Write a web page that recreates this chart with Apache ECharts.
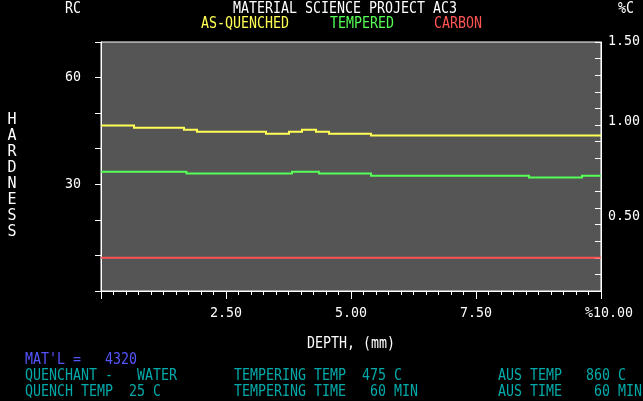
<!DOCTYPE html>
<html>
<head>
<meta charset="utf-8">
<script src="https://cdn.jsdelivr.net/npm/echarts@6/dist/echarts.min.js"></script>
<style>
html,body{margin:0;padding:0;background:#000;}
#chart{width:643px;height:401px;}
</style>
</head>
<body>
<div id="chart"></div>
<script>
// ---- data ----
var quenchedDepth = [0, 0.66, 1.66, 1.92, 3.30, 3.76, 4.02, 4.30, 4.56, 5.40, 10];
var quenchedRC    = [46.5, 45.9, 45.3, 44.8, 44.2, 44.8, 45.3, 44.8, 44.2, 43.7, 43.7];
var temperedDepth = [0, 1.71, 3.82, 4.36, 5.40, 8.56, 9.62, 10];
var temperedRC    = [33.5, 33.0, 33.5, 33.0, 32.4, 31.9, 32.4, 32.4];
var carbonDepth   = [0, 10];
var carbonPct     = [0.20, 0.20];
var rcTickLabels  = [30, 60];
var pctTickLabels = ['0.50', '1.00', '1.50'];
var depthTickLabels = ['2.50', '5.00', '7.50', '%10.00'];
var infoLines = [
  {text: "MAT'L =   4320", col: 0, row: 0, color: '#5555ff'},
  {text: "QUENCHANT -   WATER", col: 0, row: 1, color: '#00aaaa'},
  {text: "QUENCH TEMP  25 C", col: 0, row: 2, color: '#00aaaa'},
  {text: "TEMPERING TEMP  475 C", col: 1, row: 1, color: '#00aaaa'},
  {text: "TEMPERING TIME   60 MIN", col: 1, row: 2, color: '#00aaaa'},
  {text: "AUS TEMP   860 C", col: 2, row: 1, color: '#00aaaa'},
  {text: "AUS TIME    60 MIN", col: 2, row: 2, color: '#00aaaa'}
];

// build step-shaped point list: each value holds from its depth to the next depth
function stepData(xs, ys) {
  var out = [];
  for (var i = 0; i < xs.length; i++) {
    out.push([xs[i], ys[i]]);
    if (i < xs.length - 1) out.push([xs[i + 1], ys[i]]);
  }
  return out;
}

var MONO = '"DejaVu Sans Mono", "Liberation Mono", monospace';
var SX = 0.831;
function txt(text, x, y, color, align) {
  return {
    type: 'text', x: x, y: y, scaleX: SX,
    style: { text: text, fill: color, font: '16px ' + MONO,
             textAlign: align || 'center', textVerticalAlign: 'middle' }
  };
}

var colX = [25, 234, 498];
var rowY = [360, 376, 392];
var graphics = [
  txt('RC', 73, 9, '#ffffff'),
  txt('MATERIAL SCIENCE PROJECT AC3', 345, 9, '#ffffff'),
  txt('%C', 626, 9, '#ffffff'),
  txt('AS-QUENCHED', 245, 24, '#ffff55'),
  txt('TEMPERED', 362, 24, '#55ff55'),
  txt('CARBON', 458, 24, '#ff5555'),
  txt('DEPTH, (mm)', 351, 344, '#ffffff'),
  {
    type: 'text', x: 12, y: 176,
    style: { text: 'H\nA\nR\nD\nN\nE\nS\nS', fill: '#ffffff', font: '15px ' + MONO,
             lineHeight: 15.9, textAlign: 'center', textVerticalAlign: 'middle' }
  }
];
infoLines.forEach(function (l) {
  graphics.push(txt(l.text, colX[l.col], rowY[l.row], l.color, 'left'));
});

var labelFont = { color: '#ffffff', fontFamily: MONO, fontSize: 13.3 };

var chart = echarts.init(document.getElementById('chart'));
chart.setOption({
  backgroundColor: '#000000',
  animation: false,
  grid: { left: 101, top: 42, right: 42, bottom: 110, show: true,
          backgroundColor: '#555555', borderColor: '#ffffff', borderWidth: 1 },
  xAxis: {
    type: 'value', min: 0, max: 10, interval: 2.5,
    axisLine: { lineStyle: { color: '#ffffff', width: 1 } },
    axisTick: { show: true, length: 8, lineStyle: { color: '#ffffff' } },
    minorTick: { show: true, splitNumber: 10, length: 4, lineStyle: { color: '#ffffff' } },
    splitLine: { show: false },
    axisLabel: Object.assign({
      margin: 16,
      formatter: function (v) {
        var i = Math.round(v / 2.5) - 1;
        if (i < 0) return '';
        if (i === 3) return '{e|' + depthTickLabels[i] + '}';
        return depthTickLabels[i];
      },
      rich: { e: Object.assign({ padding: [0, 0, 0, 16] }, labelFont) }
    }, labelFont)
  },
  yAxis: [
    {
      type: 'value', min: 0, max: 70, interval: 10, position: 'left',
      axisLine: { show: true, lineStyle: { color: '#ffffff', width: 1 } },
      axisTick: { show: true, length: 6, lineStyle: { color: '#ffffff' } },
      splitLine: { show: false },
      axisLabel: Object.assign({
        margin: 20,
        formatter: function (v) { return rcTickLabels.indexOf(v) >= 0 ? String(v) : ''; }
      }, labelFont)
    },
    {
      type: 'value', min: 0, max: 1.5, interval: 0.1, position: 'right',
      axisLine: { show: true, lineStyle: { color: '#ffffff', width: 1 } },
      axisTick: { show: true, inside: true, length: 6, lineStyle: { color: '#ffffff' } },
      splitLine: { show: false },
      axisLabel: Object.assign({
        margin: 7,
        formatter: function (v) {
          if (Math.abs(v - 1.5) < 1e-6) return pctTickLabels[2];
          if (Math.abs(v - 1.0) < 1e-6) return '{u|' + pctTickLabels[1] + '}';
          if (Math.abs(v - 0.5) < 1e-6) return '{d|' + pctTickLabels[0] + '}';
          return '';
        },
        rich: {
          u: Object.assign({ padding: [0, 0, 6, 0] }, labelFont),
          d: Object.assign({ padding: [18, 0, 0, 0] }, labelFont)
        }
      }, labelFont)
    }
  ],
  series: [
    { name: 'AS-QUENCHED', type: 'lines', coordinateSystem: 'cartesian2d',
      xAxisIndex: 0, yAxisIndex: 0, polyline: true, silent: true,
      data: [{ coords: stepData(quenchedDepth, quenchedRC) }],
      lineStyle: { color: '#ffff55', width: 2, opacity: 1 } },
    { name: 'TEMPERED', type: 'lines', coordinateSystem: 'cartesian2d',
      xAxisIndex: 0, yAxisIndex: 0, polyline: true, silent: true,
      data: [{ coords: stepData(temperedDepth, temperedRC) }],
      lineStyle: { color: '#55ff55', width: 2, opacity: 1 } },
    { name: 'CARBON', type: 'lines', coordinateSystem: 'cartesian2d',
      xAxisIndex: 0, yAxisIndex: 1, polyline: true, silent: true,
      data: [{ coords: stepData(carbonDepth, carbonPct) }],
      lineStyle: { color: '#ff5555', width: 2, opacity: 1 } }
  ],
  graphic: graphics
});
</script>
</body>
</html>
